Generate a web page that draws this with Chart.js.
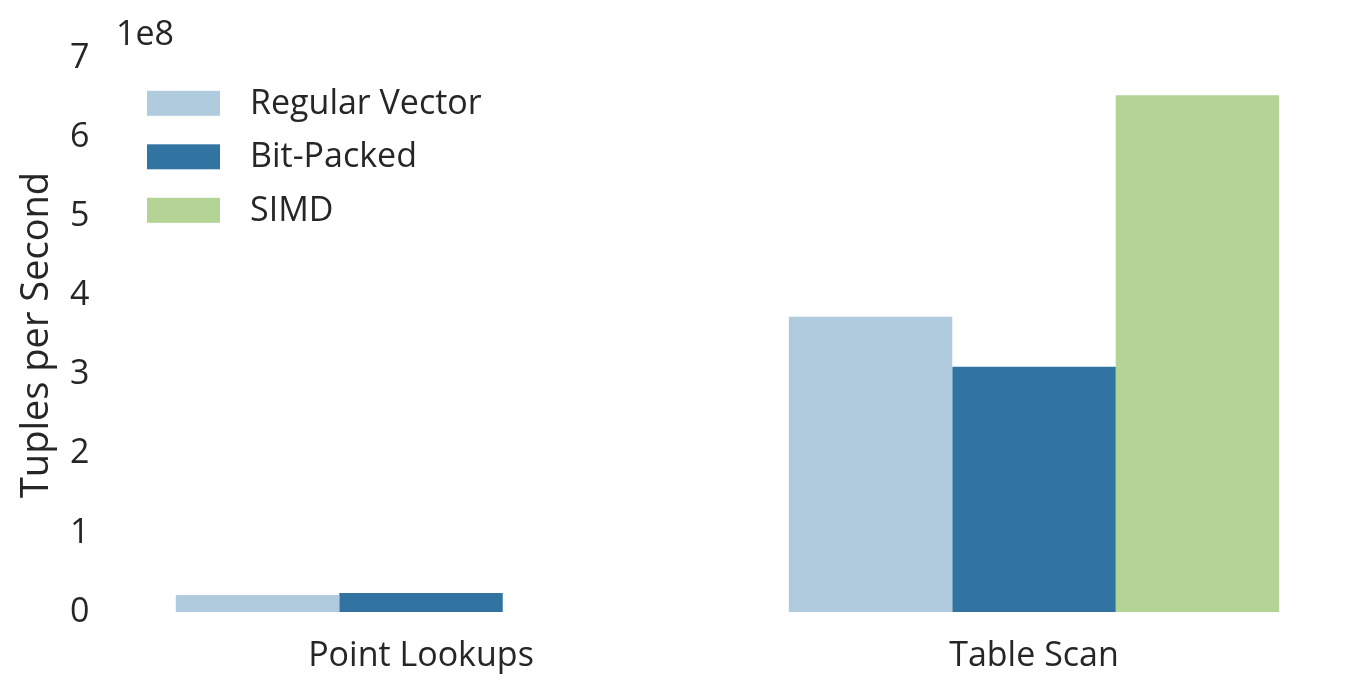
<!DOCTYPE html>
<html>
<head>
<meta charset="utf-8">
<script src="https://cdn.jsdelivr.net/npm/chart.js@4"></script>
<style>
  html, body { margin: 0; padding: 0; background: #ffffff; }
  #wrap { width: 1360px; height: 692px; }
</style>
</head>
<body>
<div id="wrap"><canvas id="c" width="1360" height="692"></canvas></div>
<script>
const categories = ['Point Lookups', 'Table Scan'];
const seriesNames = ['Regular Vector', 'Bit-Packed', 'SIMD'];
const regularVector = [2.15e7, 3.73e8];
const bitPacked = [2.4e7, 3.10e8];
const simd = [null, 6.53e8];
const yTicks = [0, 1e8, 2e8, 3e8, 4e8, 5e8, 6e8, 7e8];
const colors = ['#afcbdd', '#3274a1', '#b3d495'];

const FONT = "'Open Sans', 'DejaVu Sans', sans-serif";
const TEXT = '#262626';

const legendPlugin = {
  id: 'insideLegend',
  afterDraw(chart) {
    const ctx = chart.ctx;
    ctx.save();
    ctx.font = '34px ' + FONT;
    ctx.textBaseline = 'middle';
    ctx.textAlign = 'left';
    chart.data.datasets.forEach((ds, i) => {
      const cy = 103.3 + i * 53.5;
      ctx.fillStyle = ds.backgroundColor;
      ctx.fillRect(147, cy - 12.5, 73, 25);
      ctx.fillStyle = TEXT;
      ctx.fillText(ds.label, 250, cy + 1);
    });
    // offset text (scale multiplier)
    ctx.fillText('1e8', 116, 35);
    ctx.restore();
  }
};

new Chart(document.getElementById('c'), {
  type: 'bar',
  data: {
    labels: categories,
    datasets: [
      { label: seriesNames[0], data: regularVector, backgroundColor: colors[0] },
      { label: seriesNames[1], data: bitPacked, backgroundColor: colors[1] },
      { label: seriesNames[2], data: simd, backgroundColor: colors[2] }
    ]
  },
  options: {
    responsive: false,
    animation: false,
    layout: { padding: { top: 58, right: 19.5, bottom: 0, left: 0 } },
    datasets: { bar: { categoryPercentage: 0.8, barPercentage: 1.0, borderWidth: 0 } },
    plugins: {
      legend: { display: false },
      tooltip: { enabled: false }
    },
    scales: {
      x: {
        grid: { display: false },
        border: { display: false },
        ticks: { color: TEXT, font: { family: FONT, size: 34 }, padding: 16, maxRotation: 0 },
        afterFit(scale) { scale.height = 80; }
      },
      y: {
        min: 0,
        max: 7e8,
        grid: { display: false },
        border: { display: false },
        afterBuildTicks(scale) { scale.ticks = yTicks.map(v => ({ value: v })); },
        ticks: {
          color: TEXT,
          font: { family: FONT, size: 34 },
          padding: 17,
          callback: (v) => String(Math.round(v / 1e8))
        },
        title: {
          display: true,
          text: 'Tuples per Second',
          color: TEXT,
          font: { family: FONT, size: 38 },
          padding: { top: 14, bottom: 0 }
        },
        afterFit(scale) { scale.width = 114.5; }
      }
    }
  },
  plugins: [legendPlugin]
});
</script>
</body>
</html>
